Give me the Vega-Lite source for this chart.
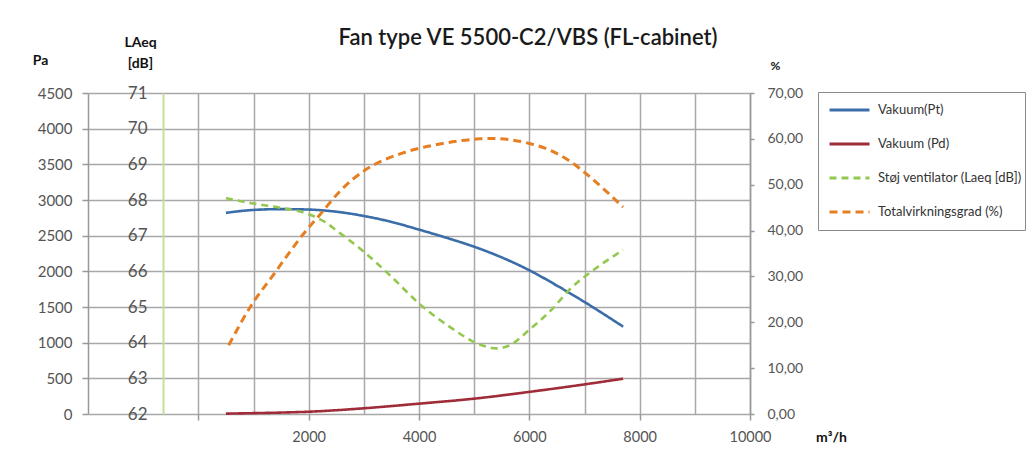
{
  "$schema": "https://vega.github.io/schema/vega-lite/v6.json",
  "width": 662,
  "height": 321,
  "autosize": {"type": "none"},
  "padding": {"left": 88, "top": 93, "right": 285, "bottom": 48},
  "background": "white",
  "title": {
    "text": "Fan type VE 5500-C2/VBS (FL-cabinet)",
    "font": "Lato",
    "fontSize": 22,
    "fontWeight": 600,
    "color": "#1a1a1a",
    "anchor": "middle",
    "frame": "group",
    "dx": 109,
    "dy": 25,
    "offset": 10
  },
  "config": {
    "font": "Lato",
    "view": {"stroke": null},
    "axis": {
      "labelFont": "Lato",
      "titleFont": "Lato",
      "labelColor": "#555555",
      "titleColor": "#111111",
      "domainColor": "#999999",
      "tickColor": "#999999",
      "gridColor": "#a8a8a8",
      "gridWidth": 1.5,
      "domainWidth": 1.5,
      "tickWidth": 1.5
    },
    "legend": {
      "title": null,
      "orient": "none",
      "legendX": 730,
      "legendY": -1,
      "symbolType": "stroke",
      "symbolSize": 1600,
      "symbolStrokeWidth": 3,
      "strokeColor": "#8a8a8a",
      "padding": 3,
      "clipHeight": 30,
      "rowPadding": 4,
      "symbolOffset": 7,
      "labelOffset": 7,
      "labelFontSize": 13,
      "labelColor": "#333333",
      "labelFont": "Lato"
    }
  },
  "datasets": {
    "pa": [
      {"series": "Vakuum(Pt)", "flow": 500, "value": 2820},
      {"series": "Vakuum(Pt)", "flow": 950, "value": 2858},
      {"series": "Vakuum(Pt)", "flow": 1500, "value": 2872},
      {"series": "Vakuum(Pt)", "flow": 2000, "value": 2866},
      {"series": "Vakuum(Pt)", "flow": 2500, "value": 2836},
      {"series": "Vakuum(Pt)", "flow": 3000, "value": 2776},
      {"series": "Vakuum(Pt)", "flow": 3500, "value": 2693},
      {"series": "Vakuum(Pt)", "flow": 4000, "value": 2585},
      {"series": "Vakuum(Pt)", "flow": 4500, "value": 2470},
      {"series": "Vakuum(Pt)", "flow": 5000, "value": 2345},
      {"series": "Vakuum(Pt)", "flow": 5500, "value": 2195},
      {"series": "Vakuum(Pt)", "flow": 6000, "value": 2015},
      {"series": "Vakuum(Pt)", "flow": 6500, "value": 1800},
      {"series": "Vakuum(Pt)", "flow": 7000, "value": 1570},
      {"series": "Vakuum(Pt)", "flow": 7700, "value": 1225},
      {"series": "Vakuum (Pd)", "flow": 500, "value": 5},
      {"series": "Vakuum (Pd)", "flow": 1000, "value": 12},
      {"series": "Vakuum (Pd)", "flow": 1500, "value": 20},
      {"series": "Vakuum (Pd)", "flow": 2000, "value": 32},
      {"series": "Vakuum (Pd)", "flow": 3000, "value": 80},
      {"series": "Vakuum (Pd)", "flow": 4000, "value": 145},
      {"series": "Vakuum (Pd)", "flow": 5000, "value": 215},
      {"series": "Vakuum (Pd)", "flow": 6000, "value": 310},
      {"series": "Vakuum (Pd)", "flow": 7000, "value": 415},
      {"series": "Vakuum (Pd)", "flow": 7700, "value": 495}
    ],
    "laeq": [
      {"series": "Støj ventilator (Laeq [dB])", "flow": 500, "value": 68.05},
      {"series": "Støj ventilator (Laeq [dB])", "flow": 1000, "value": 67.9},
      {"series": "Støj ventilator (Laeq [dB])", "flow": 1500, "value": 67.78},
      {"series": "Støj ventilator (Laeq [dB])", "flow": 2000, "value": 67.6},
      {"series": "Støj ventilator (Laeq [dB])", "flow": 2300, "value": 67.38},
      {"series": "Støj ventilator (Laeq [dB])", "flow": 2500, "value": 67.15},
      {"series": "Støj ventilator (Laeq [dB])", "flow": 3000, "value": 66.55},
      {"series": "Støj ventilator (Laeq [dB])", "flow": 3500, "value": 65.85},
      {"series": "Støj ventilator (Laeq [dB])", "flow": 4000, "value": 65.1},
      {"series": "Støj ventilator (Laeq [dB])", "flow": 4550, "value": 64.45},
      {"series": "Støj ventilator (Laeq [dB])", "flow": 5100, "value": 63.95},
      {"series": "Støj ventilator (Laeq [dB])", "flow": 5400, "value": 63.84},
      {"series": "Støj ventilator (Laeq [dB])", "flow": 5650, "value": 63.93},
      {"series": "Støj ventilator (Laeq [dB])", "flow": 6000, "value": 64.36},
      {"series": "Støj ventilator (Laeq [dB])", "flow": 6400, "value": 64.92},
      {"series": "Støj ventilator (Laeq [dB])", "flow": 6750, "value": 65.52},
      {"series": "Støj ventilator (Laeq [dB])", "flow": 7200, "value": 66.08},
      {"series": "Støj ventilator (Laeq [dB])", "flow": 7700, "value": 66.6}
    ],
    "eff": [
      {"series": "Totalvirkningsgrad (%)", "flow": 550, "value": 15.0},
      {"series": "Totalvirkningsgrad (%)", "flow": 950, "value": 23.5},
      {"series": "Totalvirkningsgrad (%)", "flow": 1400, "value": 31.0},
      {"series": "Totalvirkningsgrad (%)", "flow": 1650, "value": 35.2},
      {"series": "Totalvirkningsgrad (%)", "flow": 1900, "value": 39.2},
      {"series": "Totalvirkningsgrad (%)", "flow": 2200, "value": 43.4},
      {"series": "Totalvirkningsgrad (%)", "flow": 2600, "value": 49.0},
      {"series": "Totalvirkningsgrad (%)", "flow": 3050, "value": 53.4},
      {"series": "Totalvirkningsgrad (%)", "flow": 3700, "value": 56.9},
      {"series": "Totalvirkningsgrad (%)", "flow": 4300, "value": 58.7},
      {"series": "Totalvirkningsgrad (%)", "flow": 5100, "value": 60.0},
      {"series": "Totalvirkningsgrad (%)", "flow": 5300, "value": 60.1},
      {"series": "Totalvirkningsgrad (%)", "flow": 5650, "value": 59.8},
      {"series": "Totalvirkningsgrad (%)", "flow": 6000, "value": 59.0},
      {"series": "Totalvirkningsgrad (%)", "flow": 6400, "value": 57.4},
      {"series": "Totalvirkningsgrad (%)", "flow": 6750, "value": 55.0},
      {"series": "Totalvirkningsgrad (%)", "flow": 7050, "value": 52.2},
      {"series": "Totalvirkningsgrad (%)", "flow": 7400, "value": 48.5},
      {"series": "Totalvirkningsgrad (%)", "flow": 7700, "value": 45.1}
    ]
  },
  "layer": [
    {
      "data": {"name": "pa"},
      "mark": {"type": "line", "interpolate": "monotone", "strokeWidth": 2.6},
      "encoding": {
        "x": {
          "field": "flow",
          "type": "quantitative",
          "scale": {"domain": [-2000, 10000], "nice": false, "zero": false},
          "axis": {
            "values": [0, 1000, 2000, 3000, 4000, 5000, 6000, 7000, 8000, 9000, 10000],
            "grid": true,
            "domain": false,
            "tickSize": 6,
            "tickOpacity": {"condition": {"test": "datum.value % 2000 === 0", "value": 1}, "value": 0},
            "labelExpr": "datum.value > 0 && datum.value % 2000 === 0 ? datum.value : ''",
            "labelFontSize": 14.5,
            "labelPadding": 10,
            "labelFlush": false,
            "labelOverlap": false,
            "title": "m³/h",
            "titleFontSize": 14,
            "titleFontWeight": "bold",
            "titleX": 743,
            "titleY": 23,
            "titleBaseline": "middle",
            "titleAlign": "center"
          }
        },
        "y": {
          "field": "value",
          "type": "quantitative",
          "scale": {"domain": [0, 4500], "nice": false},
          "axis": {
            "orient": "left",
            "values": [0, 500, 1000, 1500, 2000, 2500, 3000, 3500, 4000, 4500],
            "format": "d",
            "grid": true,
            "tickSize": 6,
            "labelPadding": 10,
            "labelFontSize": 15,
            "title": "Pa",
            "titleAngle": 0,
            "titleX": -48,
            "titleY": -33,
            "titleAlign": "center",
            "titleBaseline": "middle",
            "titleFontSize": 14,
            "titleFontWeight": "bold"
          }
        },
        "color": {
          "field": "series",
          "type": "nominal",
          "scale": {
            "domain": ["Vakuum(Pt)", "Vakuum (Pd)", "Støj ventilator (Laeq [dB])", "Totalvirkningsgrad (%)"],
            "range": ["#3b6ea8", "#a02c3a", "#92c84f", "#e67e22"]
          },
          "legend": {"title": null}
        },
        "strokeDash": {
          "field": "series",
          "type": "nominal",
          "scale": {
            "domain": ["Vakuum(Pt)", "Vakuum (Pd)", "Støj ventilator (Laeq [dB])", "Totalvirkningsgrad (%)"],
            "range": [[1, 0], [1, 0], [7, 5], [8, 5]]
          },
          "legend": {"title": null}
        }
      }
    },
    {
      "data": {"name": "laeq"},
      "mark": {"type": "line", "interpolate": "monotone", "strokeWidth": 2.6},
      "encoding": {
        "x": {"field": "flow", "type": "quantitative"},
        "y": {
          "field": "value",
          "type": "quantitative",
          "scale": {"domain": [62, 71], "nice": false, "zero": false},
          "axis": {
            "orient": "left",
            "offset": -75,
            "values": [62, 63, 64, 65, 66, 67, 68, 69, 70, 71],
            "grid": false,
            "ticks": false,
            "tickSize": 0,
            "domainColor": "#c6e09c",
            "domainWidth": 2,
            "labelPadding": 16,
            "labelFontSize": 17,
            "title": ["LAeq", "[dB]"],
            "titleAngle": 0,
            "titleX": -23,
            "titleY": -47,
            "titleAlign": "center",
            "titleBaseline": "alphabetic",
            "titleLineHeight": 21,
            "titleFontSize": 14,
            "titleFontWeight": "bold"
          }
        },
        "color": {"field": "series", "type": "nominal"},
        "strokeDash": {"field": "series", "type": "nominal"}
      }
    },
    {
      "data": {"name": "eff"},
      "mark": {"type": "line", "interpolate": "monotone", "strokeWidth": 3},
      "encoding": {
        "x": {"field": "flow", "type": "quantitative"},
        "y": {
          "field": "value",
          "type": "quantitative",
          "scale": {"domain": [0, 70], "nice": false},
          "axis": {
            "orient": "right",
            "values": [0, 10, 20, 30, 40, 50, 60, 70],
            "grid": false,
            "tickSize": 4,
            "labelPadding": 13,
            "labelFontSize": 14,
            "labelExpr": "replace(format(datum.value, '.2f'), '.', ',')",
            "title": "%",
            "titleAngle": 0,
            "titleX": 25,
            "titleY": -28,
            "titleAlign": "center",
            "titleBaseline": "middle",
            "titleFontSize": 12,
            "titleFontWeight": "bold"
          }
        },
        "color": {"field": "series", "type": "nominal"},
        "strokeDash": {"field": "series", "type": "nominal"}
      }
    }
  ],
  "resolve": {"scale": {"y": "independent"}, "axis": {"y": "independent"}}
}
